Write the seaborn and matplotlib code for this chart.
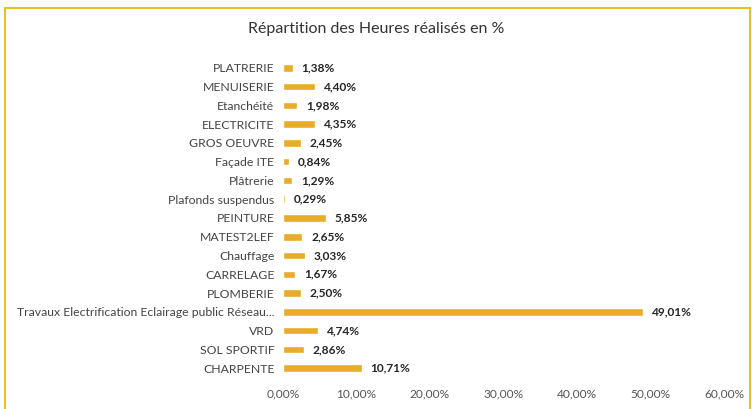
import matplotlib.pyplot as plt
import seaborn as sns
import pandas as pd
from matplotlib.patches import Rectangle

categories = [
    "PLATRERIE", "MENUISERIE", "Etanchéité", "ELECTRICITE", "GROS OEUVRE",
    "Façade ITE", "Plâtrerie", "Plafonds suspendus", "PEINTURE", "MATEST2LEF",
    "Chauffage", "CARRELAGE", "PLOMBERIE",
    "Travaux Electrification Eclairage public Réseau...",
    "VRD", "SOL SPORTIF", "CHARPENTE",
]
values = [1.38, 4.40, 1.98, 4.35, 2.45, 0.84, 1.29, 0.29, 5.85, 2.65,
          3.03, 1.67, 2.50, 49.01, 4.74, 2.86, 10.71]
x_ticks = [0, 10, 20, 30, 40, 50, 60]

df = pd.DataFrame({"cat": categories, "val": values})

sns.set_style("white")
plt.rcParams["font.family"] = ["Lato", "DejaVu Sans"]

fig = plt.figure(figsize=(7.52, 4.09), dpi=100)
ax = fig.add_axes([0.376, 0.077, 0.587, 0.78])

sns.barplot(data=df, x="val", y="cat", orient="h", color="#E8AC2A",
            saturation=1, width=0.4, ax=ax)

for i, v in enumerate(values):
    ax.text(v + 1.2, i, f"{v:.2f}%".replace(".", ","), va="center", ha="left",
            fontsize=8.6, fontweight="bold", color="#262626")

ax.set_xlim(0, 60)
ax.set_xticks(x_ticks)
ax.set_xticklabels([f"{t:.2f}%".replace(".", ",") for t in x_ticks],
                   fontsize=8.6, color="#555555")
ax.tick_params(axis="y", labelsize=8.8, labelcolor="#444444", length=0, pad=6)
ax.tick_params(axis="x", length=0, pad=8)
ax.set_xlabel("")
ax.set_ylabel("")
for s in ax.spines.values():
    s.set_visible(False)

fig.text(0.5, 0.928, "Répartition des Heures réalisés en %", ha="center",
         va="center", fontsize=11.5, color="#333333")

# frame around the chart
fig.patches.append(Rectangle((0.007, -0.01), 0.99, 0.99, transform=fig.transFigure,
                             fill=False, edgecolor="#E8C020", linewidth=1.5))

fig.savefig("out.png", dpi=100)
